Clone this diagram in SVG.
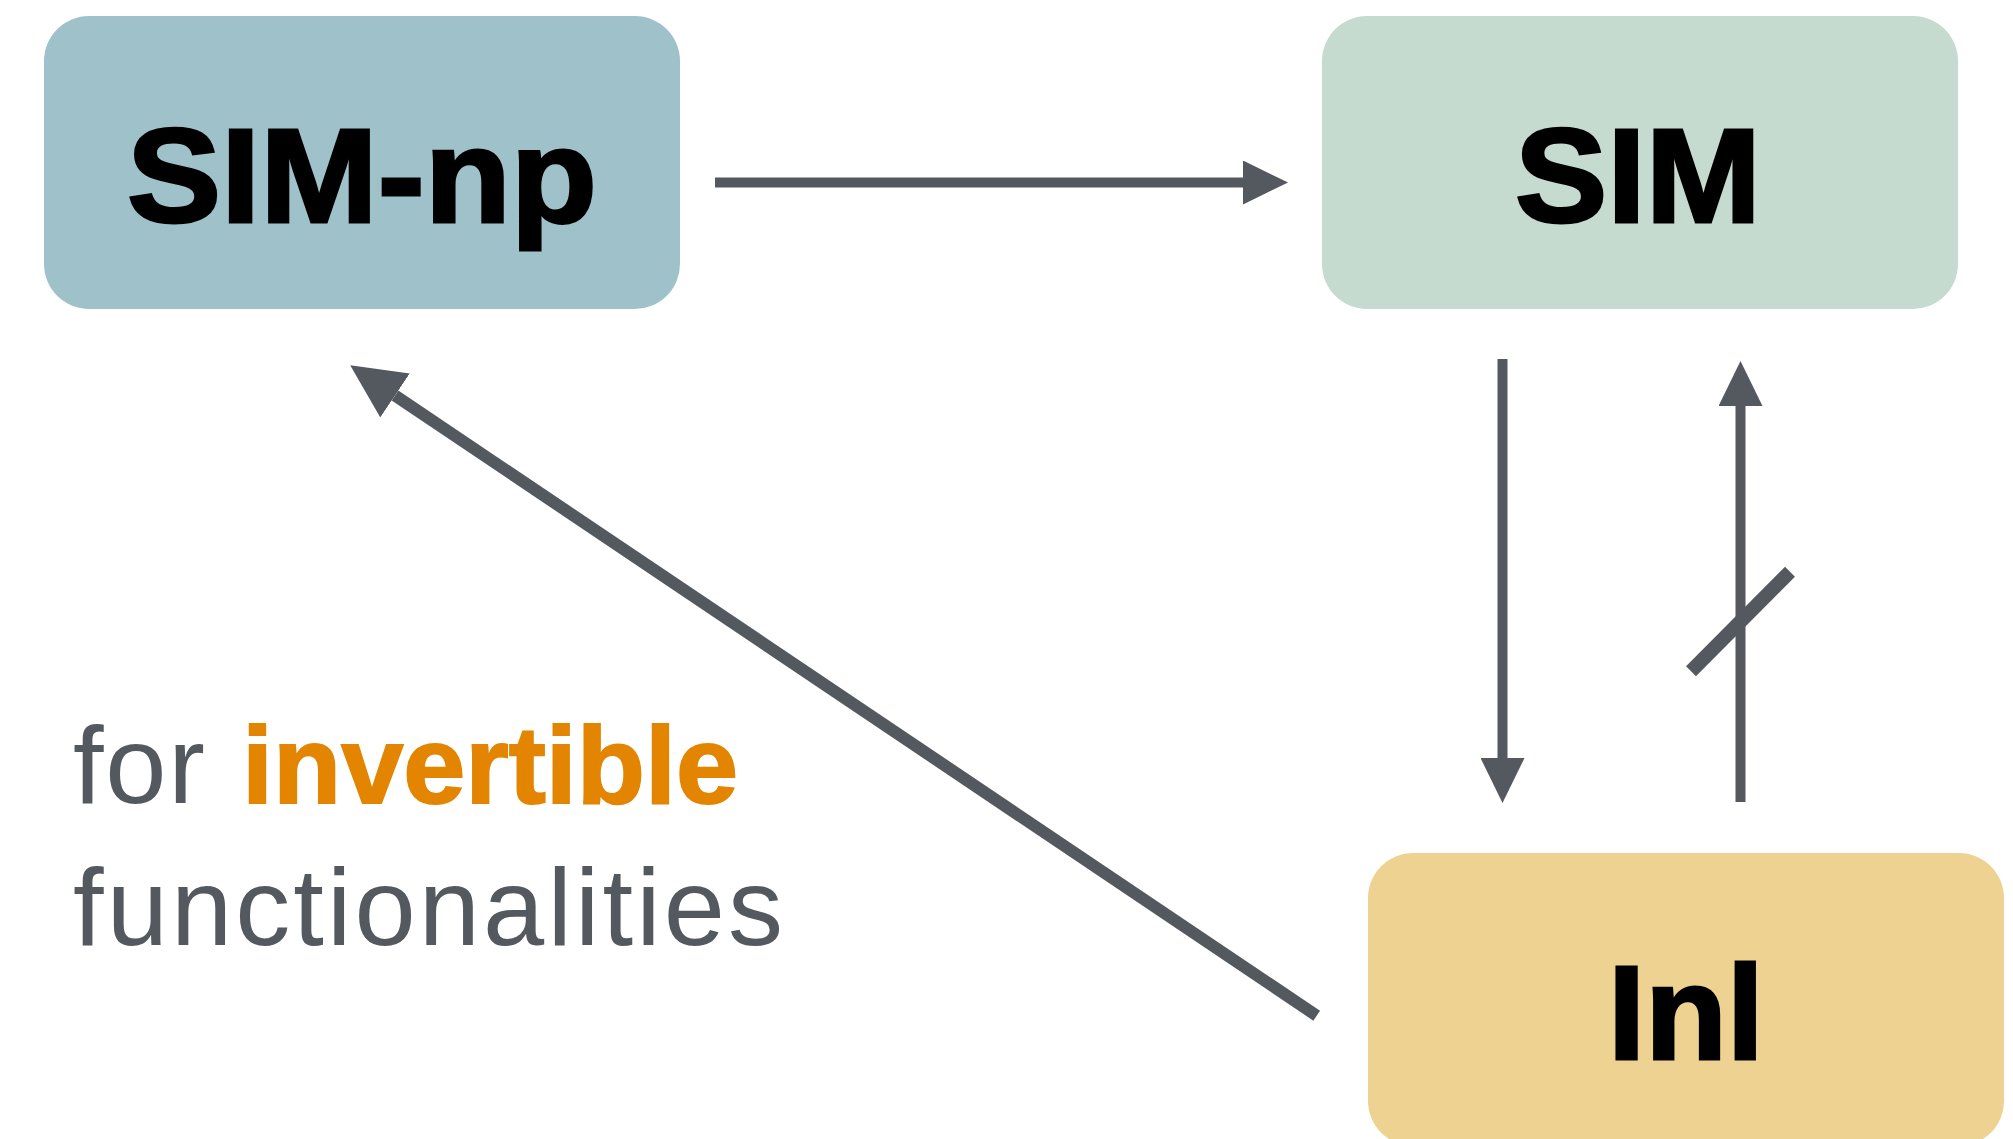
<svg xmlns="http://www.w3.org/2000/svg" width="2013" height="1139" viewBox="0 0 2013 1139">
  <style>
    .box { stroke: none; }
    .label { font-family: "Liberation Sans", Arial, sans-serif; font-weight: bold; font-size: 134px; fill: #000; stroke: #000; stroke-width: 3; text-anchor: middle; }
    .edge { fill: none; stroke: #545960; stroke-linecap: butt; }
    .note { font-family: "Liberation Sans", Arial, sans-serif; font-size: 110px; fill: #545960; }
    .em { font-weight: bold; fill: #E38500; stroke: #E38500; stroke-width: 2; }
  </style>
  <defs>
    <!-- arrowhead scaled by stroke width: 4.5w long, 4.4w wide -->
    <marker id="head" viewBox="0 0 4.5 4.4" refX="0" refY="2.2" markerWidth="4.5" markerHeight="4.4" markerUnits="strokeWidth" orient="auto">
      <path d="M0,0 L4.5,2.2 L0,4.4 Z" fill="#545960"/>
    </marker>
  </defs>

  <g id="node-sim-np">
    <rect class="box" x="44" y="16" width="636" height="293" rx="45" ry="45" fill="#9FC2CA"/>
    <text class="label" x="362" y="222" textLength="470" lengthAdjust="spacingAndGlyphs">SIM-np</text>
  </g>

  <g id="node-sim">
    <rect class="box" x="1322" y="16" width="636" height="293" rx="45" ry="45" fill="#C6DBCF"/>
    <text class="label" x="1638" y="222" textLength="246" lengthAdjust="spacingAndGlyphs">SIM</text>
  </g>

  <g id="node-inl">
    <rect class="box" x="1368" y="853" width="636" height="293" rx="45" ry="45" fill="#EED291"/>
    <text class="label" x="1686" y="1059" textLength="156" lengthAdjust="spacingAndGlyphs">Inl</text>
  </g>

  <g id="connectors">
    <!-- SIM-np to SIM -->
    <line class="edge" x1="715" y1="182.5" x2="1243" y2="182.5" stroke-width="10" marker-end="url(#head)"/>
    <!-- SIM to Inl -->
    <line class="edge" x1="1502.5" y1="359" x2="1502.5" y2="758" stroke-width="10" marker-end="url(#head)"/>
    <!-- Inl to SIM (crossed out) -->
    <line class="edge" x1="1740.5" y1="802" x2="1740.5" y2="406" stroke-width="10" marker-end="url(#head)"/>
    <line class="edge" x1="1691" y1="671.3" x2="1790" y2="571.7" stroke-width="14"/>
    <!-- Inl to SIM-np -->
    <line class="edge" x1="1316.7" y1="1015.7" x2="395" y2="395.5" stroke-width="12" marker-end="url(#head)"/>
  </g>

  <g id="caption">
    <text class="note" y="803"><tspan x="73" textLength="132" lengthAdjust="spacing">for</tspan><tspan class="em" x="242" textLength="496" lengthAdjust="spacingAndGlyphs">invertible</tspan></text>
    <text class="note" x="73" y="945" textLength="710" lengthAdjust="spacing">functionalities</text>
  </g>
</svg>
